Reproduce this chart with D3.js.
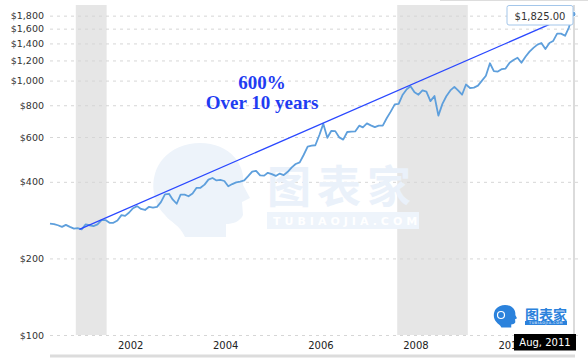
<!DOCTYPE html>
<html>
<head>
<meta charset="utf-8">
<script src="https://cdn.jsdelivr.net/npm/d3@7"></script>
<style>
  body { margin: 0; background: #fff; }
  svg { display: block; font-family: "DejaVu Sans", Verdana, sans-serif; }
</style>
</head>
<body>
<div id="chart"></div>
<script>
// monthly gold price, Aug 2000 .. Aug 2011 (USD / oz)
var firstMonth = "2000-08-01";
var goldPrices = [
  274, 273, 270, 266, 271,
  266, 262, 263, 260, 272, 270, 268, 272, 283, 283, 276, 276,
  282, 296, 294, 303, 315, 321, 313, 310, 319, 317, 319, 333,
  357, 359, 341, 328, 356, 356, 351, 360, 379, 379, 390, 408,
  414, 405, 407, 403, 384, 392, 398, 401, 405, 421, 439, 442,
  424, 423, 434, 429, 422, 431, 425, 438, 456, 470, 477, 510,
  550, 555, 557, 611, 676, 596, 634, 633, 598, 586, 628, 630,
  631, 665, 655, 679, 667, 656, 665, 665, 713, 755, 806, 810,
  880, 925, 950, 900, 880, 915, 905, 830, 870, 728, 810, 868,
  915, 945, 915, 880, 965, 935, 938, 955, 1000, 1045, 1170, 1090,
  1085, 1110, 1115, 1175, 1205, 1230, 1175, 1240, 1300, 1345, 1385, 1405,
  1330, 1405, 1430, 1530, 1530, 1500, 1620, 1825
];
var recessions = [["2001-02-15", "2001-10-10"], ["2007-11-20", "2009-05-15"]];
var trendPoints = [["2001-03-15", 260], ["2011-08-01", 1825]];
var yTicks = [100, 200, 400, 600, 800, 1000, 1200, 1400, 1600, 1800];
var xTickYears = [2002, 2004, 2006, 2008, 2010];
var annotation = ["600%", "Over 10 years"];
var lastLabel = "$1,825.00";
var lastDate = "Aug, 2011";

var parse = d3.timeParse("%Y-%m-%d");
var start = parse(firstMonth);
var data = goldPrices.map(function(v, i) {
  return {date: d3.timeMonth.offset(start, i), value: v};
});

var svg = d3.select("#chart").append("svg")
  .attr("width", 588)
  .attr("height", 364);

var x = d3.scaleTime()
  .domain([start, data[data.length - 1].date])
  .range([50, 573]);
var y = d3.scaleLog()
  .domain([100, 2000])
  .range([335, 4]);

// top frame bits
svg.append("line").attr("x1", 440).attr("x2", 588).attr("y1", 0.5).attr("y2", 0.5)
  .attr("stroke", "#ddd");

// recession bands
svg.selectAll("rect.band")
  .data(recessions)
  .enter()
  .append("rect")
    .attr("class", "band")
    .attr("x", function(d) {return x(parse(d[0]))})
    .attr("width", function(d) {return x(parse(d[1])) - x(parse(d[0]))})
    .attr("y", 5)
    .attr("height", 330)
    .attr("fill", "#e6e6e6");

// y axis + grid
var yAxis = svg.append("g")
  .attr("transform", "translate(50,0)")
  .call(d3.axisLeft(y)
    .tickValues(yTicks)
    .tickSize(-528)
    .tickPadding(6)
    .tickFormat(function(d) {return "$" + d3.format(",")(d)}));
yAxis.select(".domain").remove();
yAxis.selectAll(".tick line")
  .attr("stroke", "#d6d6d6")
  .attr("stroke-dasharray", "3,4");
yAxis.selectAll(".tick text")
  .attr("fill", "#333")
  .style("font-size", "9.5px")
  .style("font-family", "DejaVu Sans, sans-serif");

// watermark in the middle
var wm = svg.append("g").attr("class", "watermark");
var headPath = "M200 143 C230 143 246 165 243 185 L250 198 L242 202 L243 215 " +
  "C240 222 232 224 226 224 L226 237 L185 237 C180 225 170 222 165 215 " +
  "C150 200 150 175 162 160 C172 148 186 143 200 143 Z";
wm.append("path").attr("d", headPath).attr("fill", "#edf3fa");
wm.append("text")
  .attr("x", 267).attr("y", 203)
  .attr("fill", "#eaf1fa")
  .style("font-family", "Noto Sans CJK SC, sans-serif")
  .style("font-size", "44px")
  .style("font-weight", "bold")
  .style("letter-spacing", "6px")
  .text("图表家");
wm.append("rect").attr("x", 267).attr("y", 212).attr("width", 152).attr("height", 17)
  .attr("fill", "#eef4fb");
wm.append("text")
  .attr("x", 273).attr("y", 225)
  .attr("fill", "#fff")
  .style("font-size", "11px")
  .style("font-weight", "bold")
  .style("letter-spacing", "4px")
  .text("TUBIAOJIA.COM");

// x axis labels
var xAxis = svg.append("g")
  .attr("transform", "translate(0,335)")
  .call(d3.axisBottom(x)
    .tickValues(xTickYears.map(function(yr) {return new Date(yr, 0, 1)}))
    .tickSize(0)
    .tickPadding(7)
    .tickFormat(d3.timeFormat("%Y")));
xAxis.select(".domain").remove();
xAxis.selectAll(".tick text")
  .attr("text-anchor", "start")
  .attr("fill", "#222")
  .style("font-size", "10px")
  .style("font-family", "DejaVu Sans, sans-serif");

// navigator bar
svg.append("rect").attr("x", 50).attr("y", 354.5).attr("width", 525).attr("height", 3)
  .attr("fill", "#dcdcdc");

// price line
var line = d3.line()
  .x(function(d) {return x(d.date)})
  .y(function(d) {return y(d.value)});

svg.append("path")
  .datum(data)
  .attr("d", line)
  .attr("fill", "none")
  .attr("stroke", "#5e9fdc")
  .attr("stroke-width", 1.8)
  .attr("stroke-linejoin", "round");

// trend line
svg.append("line")
  .attr("x1", x(parse(trendPoints[0][0])))
  .attr("y1", y(trendPoints[0][1]))
  .attr("x2", x(parse(trendPoints[1][0])))
  .attr("y2", y(trendPoints[1][1]))
  .attr("stroke", "#2a48ff")
  .attr("stroke-width", 1.3);

// annotation
svg.selectAll("text.note")
  .data(annotation)
  .enter()
  .append("text")
    .attr("class", "note")
    .attr("x", 262)
    .attr("y", function(d, i) {return 89 + i * 19.5})
    .attr("text-anchor", "middle")
    .attr("fill", "#1f3cf2")
    .style("font-family", "Georgia, 'Liberation Serif', serif")
    .style("font-weight", "bold")
    .style("font-size", "19px")
    .text(function(d) {return d});

// hover state at last point
var last = data[data.length - 1];
svg.append("line")
  .attr("x1", x(last.date) + 1).attr("x2", x(last.date) + 1)
  .attr("y1", 5).attr("y2", 335)
  .attr("stroke", "#cfcfcf")
  .attr("stroke-width", 1.5);
svg.append("circle")
  .attr("cx", x(last.date)).attr("cy", y(last.value))
  .attr("r", 3)
  .attr("fill", "#5e9fdc")
  .attr("stroke", "#fff")
  .attr("stroke-width", 1);

svg.append("rect")
  .attr("x", 507).attr("y", 5.5).attr("width", 66).attr("height", 19.5)
  .attr("rx", 2)
  .attr("fill", "#fff")
  .attr("stroke", "#a3c6ea");
svg.append("text")
  .attr("x", 540).attr("y", 19.5)
  .attr("text-anchor", "middle")
  .attr("fill", "#333")
  .style("font-size", "10px")
  .text(lastLabel);

svg.append("rect")
  .attr("x", 514).attr("y", 334).attr("width", 62).attr("height", 16.5)
  .attr("fill", "#000");
svg.append("text")
  .attr("x", 545).attr("y", 346)
  .attr("text-anchor", "middle")
  .attr("fill", "#fff")
  .style("font-size", "10px")
  .text(lastDate);

// logo, bottom right
var logo = svg.append("g");
logo.append("path")
  .attr("d", headPath)
  .attr("fill", "#2b82dc")
  .attr("transform", "translate(493,305) scale(0.24) translate(-150,-143)");
logo.append("circle").attr("cx", 501).attr("cy", 315).attr("r", 3.5)
  .attr("fill", "none").attr("stroke", "#fff").attr("stroke-width", 1.2);
logo.append("text")
  .attr("x", 525).attr("y", 319.5)
  .attr("fill", "#2b82dc")
  .style("font-family", "Noto Sans CJK SC, sans-serif")
  .style("font-size", "14px")
  .style("font-weight", "bold")
  .text("图表家");
logo.append("rect").attr("x", 525).attr("y", 321).attr("width", 42).attr("height", 4)
  .attr("fill", "#2b82dc");
logo.append("text")
  .attr("x", 546).attr("y", 324.3)
  .attr("text-anchor", "middle")
  .attr("fill", "#fff")
  .style("font-size", "3.4px")
  .style("letter-spacing", "0.6px")
  .text("TUBIAOJIA.COM");
</script>
</body>
</html>
